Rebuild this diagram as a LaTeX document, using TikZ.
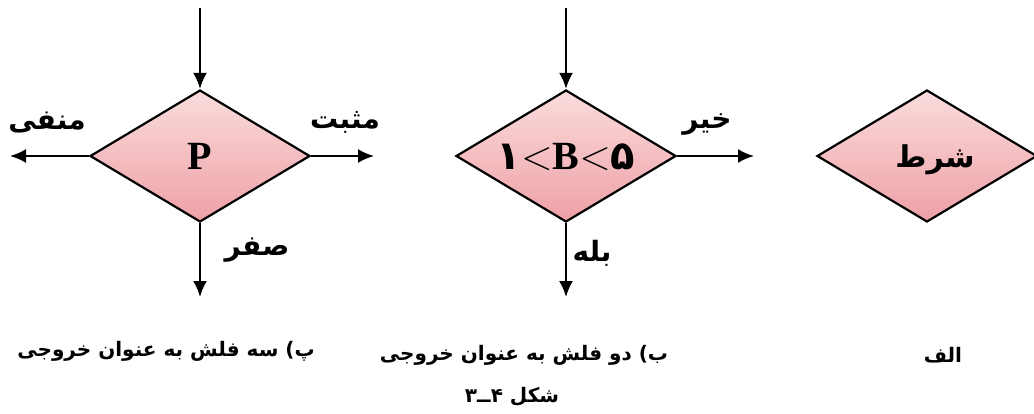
\documentclass[tikz,border=0pt]{standalone}
\usepackage{fontspec}
\usepackage{tikz}
\usetikzlibrary{arrows.meta, shapes.geometric}
\TeXXeTstate=1
\newfontfamily\arabicfont[Script=Arabic]{DejaVu Sans}
\newfontfamily\latinfont{Liberation Serif}
\newcommand{\fa}[1]{{\arabicfont\bfseries\beginR #1\endR}}
\newcommand{\inside}[1]{\smash{\makebox[0pt]{\raisebox{-.5\height}{#1}}}}
\definecolor{pinktop}{HTML}{FADCDC}
\definecolor{pinkbot}{HTML}{EEA0A6}

\begin{document}
\begin{tikzpicture}[x=0.5pt, y=-0.5pt,
    cond/.style = {draw, diamond, line width=1.1pt, minimum width=110pt, minimum height=66pt,
                   inner sep=0pt, top color=pinktop, bottom color=pinkbot},
    flow/.style = {-{Latex[length=8pt,width=7pt]}, line width=1.1pt},
    lbl/.style = {font=\fontsize{14}{16}\selectfont},
    captxt/.style = {font=\fontsize{10}{12}\selectfont},
    big/.style = {font=\fontsize{20}{20}\selectfont}]
    \useasboundingbox (0,0) rectangle (1034,413);

    % diamonds
    \node[cond, big] (P) at (200,156) {\inside{\latinfont\bfseries P}};
    \node[cond, big] (B) at (566,156) {\inside{{\arabicfont\bfseries ۱}$<${\latinfont\bfseries B}$<${\arabicfont\bfseries ۵}}};
    \node[cond] (S) at (927,156) {\inside{\hspace{8pt}\fontsize{15}{17}\selectfont\fa{شرط}}};

    % free ends
    \coordinate (Pin) at (200,8);
    \coordinate (Pneg) at (10,156);
    \coordinate (Ppos) at (374,156);
    \coordinate (Pzero) at (200,297);
    \coordinate (Bin) at (566,8);
    \coordinate (Bno) at (754,156);
    \coordinate (Byes) at (566,297);

    \path[flow] (Pin) edge (P)
        (P) edge (Pneg) (P) edge (Ppos) (P) edge (Pzero);
    \path[flow] (Bin) edge (B)
        (B) edge (Bno) (B) edge (Byes);

    % arrow labels
    \node[lbl] (neg) at (47,122) {\fa{منفی}};
    \node[lbl] (pos) at (345,122) {\fa{مثبت}};
    \node[lbl] (zero) at (257,250) {\fa{صفر}};
    \node[lbl] (no) at (707,124) {\fa{خیر}};
    \node[lbl] (yes) at (592,253) {\fa{بله}};

    % captions
    \node[captxt] (capP) at (166,351) {\fa{پ) سه فلش به عنوان خروجی}};
    \node[captxt] (capB) at (524,355) {\fa{ب) دو فلش به عنوان خروجی}};
    \node[captxt] (capA) at (943,355) {\fa{الف}};
    \node[captxt] (fig) at (512,397) {\fa{شکل ۴ــ۳}};
\end{tikzpicture}
\end{document}
